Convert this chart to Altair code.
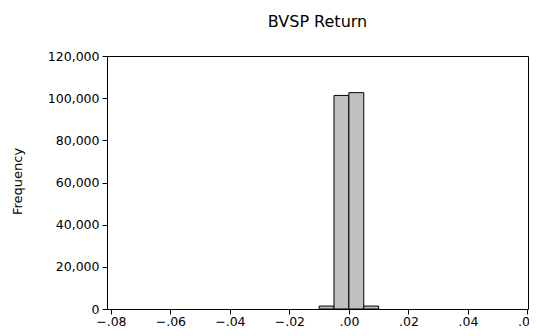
import altair as alt
import pandas as pd

bin_start = [-0.010, -0.005, 0.000, 0.005]
bin_end = [-0.005, 0.000, 0.005, 0.010]
counts = [1400, 101300, 102600, 1400]

x_ticks = [-0.08, -0.06, -0.04, -0.02, 0.00, 0.02, 0.04, 0.06]
y_ticks = [0, 20000, 40000, 60000, 80000, 100000, 120000]

df = pd.DataFrame({"start": bin_start, "end": bin_end, "count": counts})

font = "DejaVu Sans"

chart = alt.Chart(df).mark_rect(
    fill="#c0c0c0", stroke="black", strokeWidth=1
).encode(
    x=alt.X("start:Q",
            scale=alt.Scale(domain=[-0.0813, 0.0602], nice=False, zero=False),
            axis=alt.Axis(values=x_ticks, title=None,
                          labelExpr="replace(format(datum.value, '.2f'), '0.', '.')",
                          tickSize=5, labelPadding=1, grid=False,
                          labelFont=font, labelFontSize=12.5, labelColor="black",
                          domain=False, tickColor="black", labelOverlap=False,
                          labelBound=False, labelFlush=False)),
    x2="end:Q",
    y=alt.Y("count:Q",
            scale=alt.Scale(domain=[0, 120000], nice=False),
            axis=alt.Axis(values=y_ticks, title="Frequency",
                          labelExpr="format(datum.value, ',.0f')",
                          tickSize=5, labelPadding=3, grid=False,
                          labelFont=font, labelFontSize=12.5, labelColor="black",
                          titleFont=font, titleFontSize=13, titleFontWeight="normal",
                          titleColor="black", titleX=-83, titleY=125,
                          domain=False, tickColor="black")),
).properties(
    width=421, height=253,
    title=alt.TitleParams("BVSP Return", font=font, fontSize=16,
                          fontWeight="normal", color="black", offset=20),
    autosize=alt.AutoSizeParams(type="none"),
    padding={"left": 99, "top": 48, "right": 1, "bottom": 27},
).configure_view(
    stroke="black", strokeWidth=1
)

chart.save("out.html", embed_options={"renderer": "svg", "actions": False})
